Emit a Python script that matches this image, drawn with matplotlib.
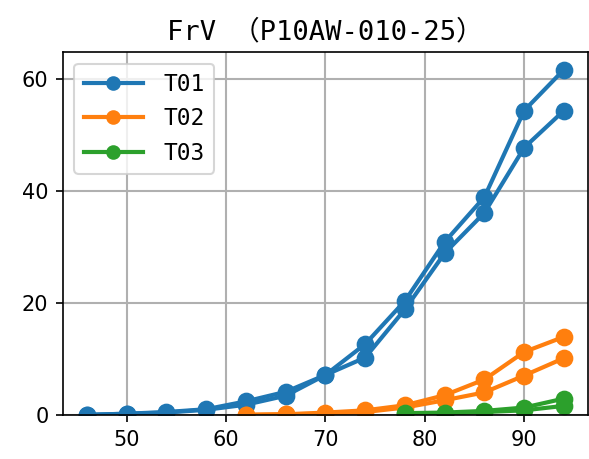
import matplotlib
matplotlib.use("Agg")
import matplotlib.pyplot as plt

# x positions (same for every run)
x_t01 = [46, 50, 54, 58, 62, 66, 70, 74, 78, 82, 86, 90, 94]
x_t02 = [62, 66, 70, 74, 78, 82, 86, 90, 94]
x_t03 = [78, 82, 86, 90, 94]

# two runs per sample
t01_a = [0.1, 0.3, 0.6, 1.1, 2.5, 4.2, 7.2, 12.7, 20.4, 30.9, 38.9, 54.3, 61.6]
t01_b = [0.1, 0.3, 0.5, 1.0, 1.9, 3.5, 7.2, 10.3, 18.9, 28.9, 36.1, 47.7, 54.3]
t02_a = [0.1, 0.2, 0.5, 0.9, 1.8, 3.6, 6.4, 11.3, 14.0]
t02_b = [0.1, 0.2, 0.3, 0.6, 1.4, 2.7, 4.1, 7.1, 10.2]
t03_a = [0.4, 0.5, 0.8, 1.4, 3.0]
t03_b = [0.2, 0.3, 0.6, 0.9, 1.7]

labels = ["T01", "T02", "T03"]
colors = ["#1f77b4", "#ff7f0e", "#2ca02c"]

jp_mono = ['DejaVu Sans Mono', 'Noto Sans CJK JP']

fig = plt.figure(figsize=(589 / 150, 459 / 150), dpi=150)
ax = fig.add_axes([0.107, 0.095, 0.891, 0.791])

runs = [(x_t01, t01_a, t01_b), (x_t02, t02_a, t02_b), (x_t03, t03_a, t03_b)]
for (xs, ya, yb), lab, c in zip(runs, labels, colors):
    ax.plot(xs, ya, 'o-', color=c, lw=2, ms=7.5, label=lab)
    ax.plot(xs, yb, 'o-', color=c, lw=2, ms=7.5)

ax.set_ylim(bottom=0)
ax.set_yticks([0, 20, 40, 60])
ax.set_xticks([50, 60, 70, 80, 90])
ax.grid(color='#b0b0b0', lw=1)
ax.set_axisbelow(True)
ax.set_title("FrV （P10AW-010-25）", family=jp_mono, fontsize=13)
ax.legend(loc='upper left', prop={'family': jp_mono, 'size': 11},
          handlelength=2.6, handletextpad=0.9, markerscale=0.8)

fig.savefig("out.png", dpi=150)
